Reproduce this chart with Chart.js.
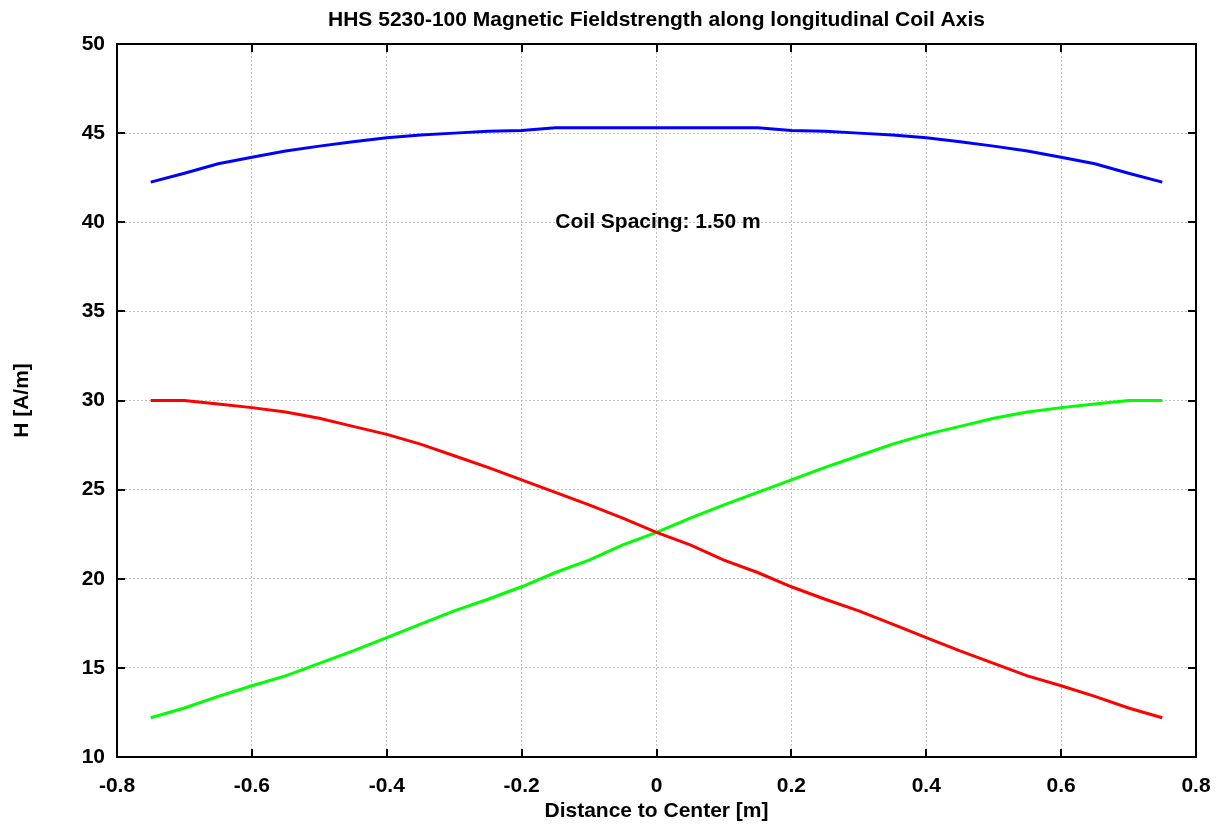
<!DOCTYPE html>
<html>
<head>
<meta charset="utf-8">
<title>HHS 5230-100 Magnetic Fieldstrength</title>
<script src="https://cdn.jsdelivr.net/npm/chart.js@4.4.1/dist/chart.umd.min.js"></script>
<style>
    html, body { margin: 0; padding: 0; background: #fff; }
    #chart { display: block; }
</style>
</head>
<body>
<canvas id="chart" width="1220" height="824"></canvas>
<script>
// Distance to center [m]
const distances = [-0.75, -0.70, -0.65, -0.60, -0.55, -0.50, -0.45, -0.40, -0.35, -0.30, -0.25,
    -0.20, -0.15, -0.10, -0.05, 0.00, 0.05, 0.10, 0.15, 0.20, 0.25, 0.30, 0.35, 0.40, 0.45,
    0.50, 0.55, 0.60, 0.65, 0.70, 0.75];

// Total field (both coils)
const totalField = [42.25, 42.75, 43.28, 43.65, 44.0, 44.27, 44.52, 44.74, 44.9, 45.0, 45.1,
    45.15, 45.3, 45.3, 45.3, 45.3, 45.3, 45.3, 45.3, 45.15, 45.1, 45.0, 44.9, 44.74, 44.52,
    44.27, 44.0, 43.65, 43.28, 42.75, 42.25];

// Field of left coil
const coilLeft = [30.0, 30.0, 29.8, 29.6, 29.35, 29.0, 28.55, 28.1, 27.55, 26.9, 26.25,
    25.55, 24.85, 24.15, 23.4, 22.6, 21.9, 21.05, 20.35, 19.55, 18.85, 18.2, 17.45, 16.7, 15.95,
    15.25, 14.55, 14.0, 13.4, 12.75, 12.2];

// Field of right coil
const coilRight = [12.2, 12.75, 13.4, 14.0, 14.55, 15.25, 15.95, 16.7, 17.45, 18.2, 18.85,
    19.55, 20.35, 21.05, 21.9, 22.6, 23.4, 24.15, 24.85, 25.55, 26.25, 26.9, 27.55, 28.1, 28.55,
    29.0, 29.35, 29.6, 29.8, 30.0, 30.0];

const xTicks = [-0.8, -0.6, -0.4, -0.2, 0, 0.2, 0.4, 0.6, 0.8];
const yTicks = [10, 15, 20, 25, 30, 35, 40, 45, 50];

const chartTitle = 'HHS 5230-100 Magnetic Fieldstrength along longitudinal Coil Axis';
const xTitle = 'Distance to Center [m]';
const yTitle = 'H [A/m]';
const note = { x: -0.15, y: 40, text: 'Coil Spacing: 1.50 m' };

const FONT = '"Liberation Sans", Arial, sans-serif';

function toPoints(values) {
    return distances.map((d, i) => ({ x: d, y: values[i] }));
}

// gnuplot-like frame, inward mirrored ticks, titles and label
const framePlugin = {
    id: 'frame',
    afterDraw(chart) {
        const { ctx, chartArea: a, scales } = chart;
        ctx.save();
        ctx.strokeStyle = '#000';
        ctx.lineWidth = 2;
        ctx.beginPath();
        xTicks.forEach(v => {
            const px = Math.round(scales.x.getPixelForValue(v));
            ctx.moveTo(px, a.bottom); ctx.lineTo(px, a.bottom - 8);
            ctx.moveTo(px, a.top); ctx.lineTo(px, a.top + 8);
        });
        yTicks.forEach(v => {
            const py = Math.round(scales.y.getPixelForValue(v));
            ctx.moveTo(a.left, py); ctx.lineTo(a.left + 8, py);
            ctx.moveTo(a.right, py); ctx.lineTo(a.right - 8, py);
        });
        ctx.stroke();
        ctx.strokeRect(a.left, a.top, a.right - a.left, a.bottom - a.top);

        ctx.fillStyle = '#000';
        ctx.font = 'bold 21px ' + FONT;
        const cx = (a.left + a.right) / 2;

        ctx.textAlign = 'center';
        ctx.textBaseline = 'alphabetic';
        ctx.fillText(chartTitle, cx, 26);

        ctx.textBaseline = 'middle';
        ctx.fillText(xTitle, cx, 811);

        ctx.save();
        ctx.translate(22, (a.top + a.bottom) / 2);
        ctx.rotate(-Math.PI / 2);
        ctx.fillText(yTitle, 0, 0);
        ctx.restore();

        ctx.textAlign = 'left';
        ctx.fillText(note.text, scales.x.getPixelForValue(note.x), scales.y.getPixelForValue(note.y));
        ctx.restore();
    }
};

const gridStyle = {
    color: '#c0c0c0',
    lineWidth: 1,
    drawTicks: false
};

new Chart(document.getElementById('chart'), {
    type: 'line',
    data: {
        datasets: [
            { label: 'Total', data: toPoints(totalField), borderColor: '#0000ff' },
            { label: 'Coil 1', data: toPoints(coilLeft), borderColor: '#ff0000' },
            { label: 'Coil 2', data: toPoints(coilRight), borderColor: '#00ff00' }
        ]
    },
    options: {
        responsive: false,
        animation: false,
        layout: { padding: { top: 44, right: 24, left: 0, bottom: 0 } },
        elements: {
            line: { borderWidth: 3, tension: 0, fill: false },
            point: { radius: 0 }
        },
        plugins: {
            legend: { display: false },
            tooltip: { enabled: false },
            title: { display: false }
        },
        scales: {
            x: {
                type: 'linear',
                min: -0.8,
                max: 0.8,
                afterFit: s => { s.height = 67; s.paddingLeft = 0; s.paddingRight = 0; },
                afterBuildTicks: s => { s.ticks = xTicks.map(v => ({ value: v })); },
                border: { display: false, dash: [2, 2] },
                grid: gridStyle,
                ticks: {
                    padding: 17,
                    color: '#000',
                    font: { family: FONT, size: 21, weight: 'bold' },
                    callback: v => String(Number(v.toFixed(1)))
                }
            },
            y: {
                min: 10,
                max: 50,
                afterFit: s => { s.width = 117; s.paddingTop = 0; s.paddingBottom = 0; },
                afterBuildTicks: s => { s.ticks = yTicks.map(v => ({ value: v })); },
                border: { display: false, dash: [2, 2] },
                grid: gridStyle,
                ticks: {
                    padding: 12,
                    color: '#000',
                    font: { family: FONT, size: 21, weight: 'bold' }
                }
            }
        }
    },
    plugins: [framePlugin]
});
</script>
</body>
</html>
